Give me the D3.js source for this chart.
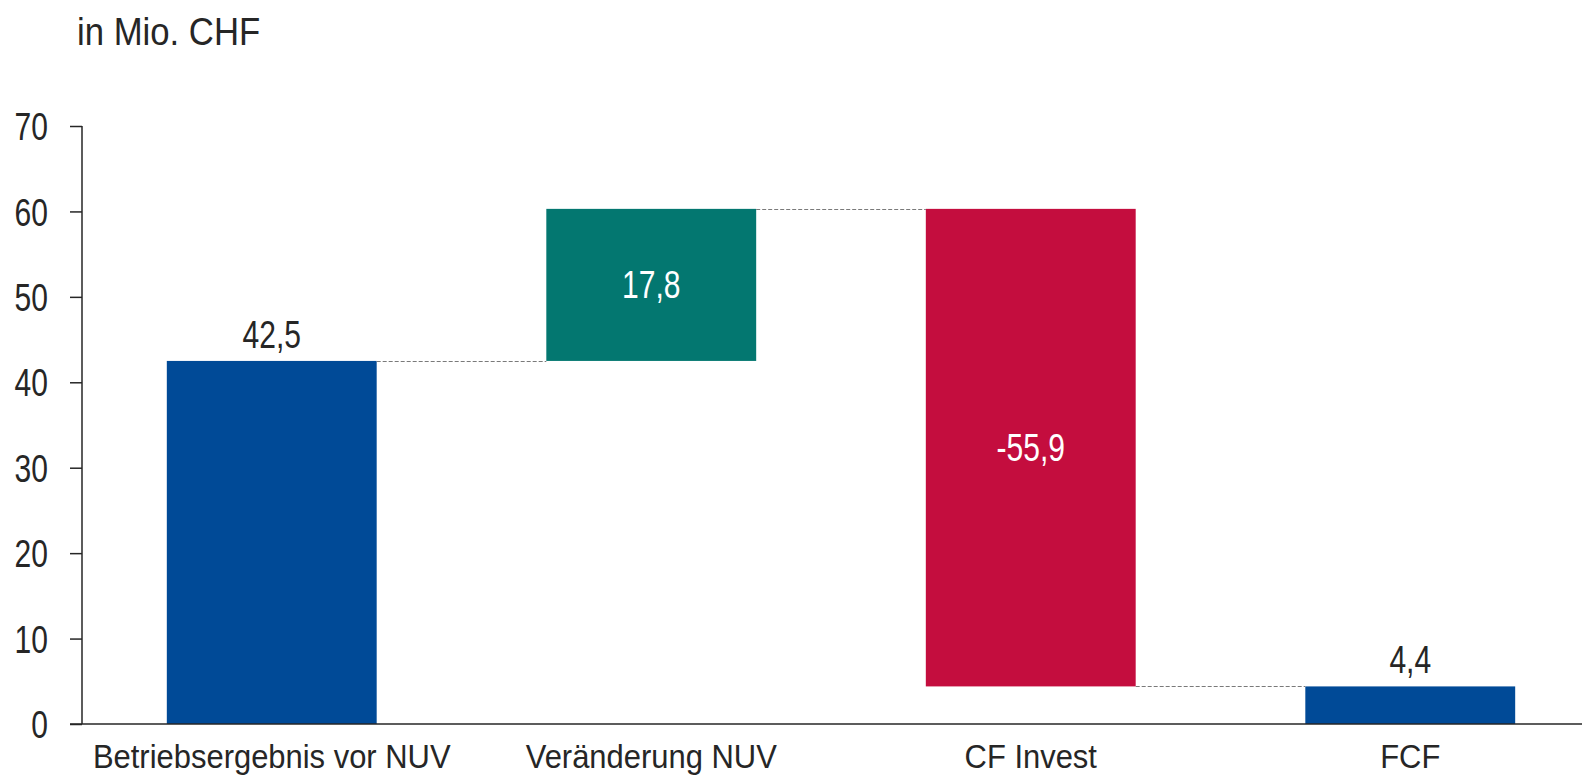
<!DOCTYPE html>
<html>
<head>
<meta charset="utf-8">
<script src="https://cdn.jsdelivr.net/npm/d3@7"></script>
<style>
  body { margin: 0; background: #fff; }
  svg text { font-family: "Liberation Sans", Arial, sans-serif; fill: #262626; }
</style>
</head>
<body>
<div id="chart"></div>
<script>
// data
var categories = ["Betriebsergebnis vor NUV", "Veränderung NUV", "CF Invest", "FCF"];
var values = [42.5, 17.8, -55.9, 4.4];
var kinds = ["total", "delta", "delta", "total"];
var valueLabels = ["42,5", "17,8", "-55,9", "4,4"];
var yTicks = [0, 10, 20, 30, 40, 50, 60, 70];

var svgWidth = 1582;
var svgHeight = 775;

var margin = { top: 126, right: -18, bottom: 51, left: 82 };
var width = svgWidth - margin.left - margin.right;
var height = svgHeight - margin.top - margin.bottom;

// narrow look: squeeze text horizontally
var squeezeNum = 0.79;
var squeezeCat = 0.91;
var squeezeTitle = 0.89;

var svg = d3.select("#chart")
  .append("svg")
  .attr("width", svgWidth)
  .attr("height", svgHeight);

var chartGroup = svg.append("g")
  .attr("transform", `translate(${margin.left}, ${margin.top})`);

// waterfall start/end
var running = 0;
var bars = categories.map(function(c, i) {
  var v = values[i];
  var b;
  if (kinds[i] === "total") {
    b = { cat: c, y0: 0, y1: v };
    running = v;
  } else {
    b = { cat: c, y0: running, y1: running + v };
    running = running + v;
  }
  b.label = valueLabels[i];
  b.kind = kinds[i];
  b.value = v;
  return b;
});

var colors = function(d) {
  if (d.kind === "total") return "#004a97";
  return d.value >= 0 ? "#037770" : "#c40d3e";
};

var xScale = d3.scaleBand()
  .domain(categories)
  .range([0, width])
  .paddingInner(0.447)
  .paddingOuter(0.2235);

var yScale = d3.scaleLinear()
  .domain([0, 70])
  .range([height, 0]);

// y axis
var yAxis = d3.axisLeft(yScale)
  .tickValues(yTicks)
  .tickSize(12);

var yG = chartGroup.append("g").call(yAxis);
yG.select(".domain").attr("d", `M0,0V${height}`).attr("stroke", "#262626").attr("stroke-width", 1.5);
yG.selectAll(".tick line").attr("stroke", "#262626").attr("stroke-width", 1.5);
yG.selectAll(".tick text")
  .attr("x", null)
  .attr("dy", "0.36em")
  .attr("transform", `translate(-34,0) scale(${squeezeNum},1)`)
  .style("font-size", "38px")
  .attr("fill", "#262626");

// bars
chartGroup.selectAll("rect.bar")
  .data(bars)
  .enter()
  .append("rect")
  .attr("class", "bar")
  .attr("x", d => xScale(d.cat))
  .attr("width", xScale.bandwidth())
  .attr("y", d => yScale(Math.max(d.y0, d.y1)))
  .attr("height", d => Math.abs(yScale(d.y0) - yScale(d.y1)))
  .attr("fill", colors);

// connectors
var links = bars.slice(0, -1).map(function(d, i) {
  return { x1: xScale(d.cat) + xScale.bandwidth(), x2: xScale(bars[i + 1].cat), y: d.y1 };
});
chartGroup.selectAll("line.conn")
  .data(links)
  .enter()
  .append("line")
  .attr("class", "conn")
  .attr("x1", d => d.x1)
  .attr("x2", d => d.x2)
  .attr("y1", d => Math.round(yScale(d.y)) + 0.5)
  .attr("y2", d => Math.round(yScale(d.y)) + 0.5)
  .attr("stroke", "#7a7a7a")
  .attr("stroke-width", 1.2)
  .attr("stroke-dasharray", "4,2");

// x baseline
chartGroup.append("line")
  .attr("x1", -12)
  .attr("x2", width)
  .attr("y1", height)
  .attr("y2", height)
  .attr("stroke", "#262626")
  .attr("stroke-width", 1.5);

// value labels
chartGroup.selectAll("text.val")
  .data(bars)
  .enter()
  .append("text")
  .attr("class", "val")
  .attr("transform", function(d) {
    var x = xScale(d.cat) + xScale.bandwidth() / 2;
    var y = d.kind === "total" ? yScale(d.y1) - 13 : (yScale(d.y0) + yScale(d.y1)) / 2 + 13.5;
    return `translate(${x},${y}) scale(${squeezeNum},1)`;
  })
  .attr("text-anchor", "middle")
  .style("font-size", "38px")
  .style("fill", d => d.kind === "total" ? "#262626" : "#ffffff")
  .text(d => d.label);

// category labels
chartGroup.selectAll("text.cat")
  .data(categories)
  .enter()
  .append("text")
  .attr("class", "cat")
  .attr("transform", d => `translate(${xScale(d) + xScale.bandwidth() / 2},${height + 44}) scale(${squeezeCat},1)`)
  .attr("text-anchor", "middle")
  .style("font-size", "34px")
  .text(d => d);

// unit title
svg.append("text")
  .attr("transform", `translate(77,45) scale(${squeezeTitle},1)`)
  .style("font-size", "39px")
  .text("in Mio. CHF");
</script>
</body>
</html>
